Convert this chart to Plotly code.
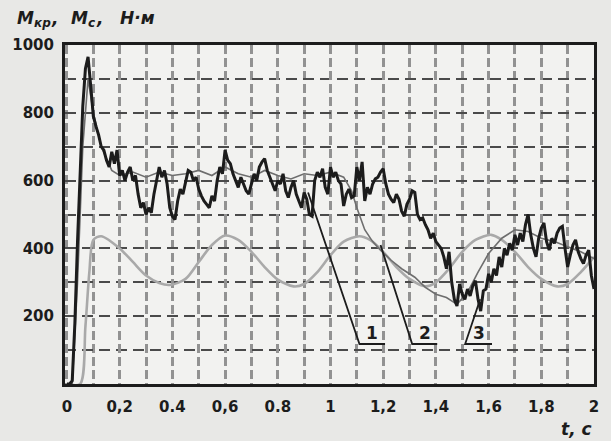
import plotly.graph_objects as go

# --- time axis of the measured torque (s) ---
t_meas = [round(0.01 * i, 2) for i in range(201)]

# measured motor torque M_kr, N*m (noisy record)
m_meas = [
    0, 0, 10, 180, 420, 640, 820, 930, 965, 880,
    790, 760, 735, 700, 690, 660, 640, 685, 650, 690,
    615, 630, 600, 625, 640, 600, 615, 560, 520, 535,
    500, 520, 505, 560, 600, 640, 610, 630, 590, 520,
    495, 485, 540, 575, 560, 600, 630, 625, 600, 610,
    575, 555, 540, 530, 520, 555, 540, 600, 640, 620,
    690, 660, 650, 620, 600, 580, 610, 590, 570, 560,
    590, 620, 600, 640, 655, 665, 630, 610, 590, 570,
    600, 590, 620, 570, 550, 580, 600, 560, 540, 520,
    565, 545, 500, 495, 600, 625, 610, 635, 580, 560,
    640, 610, 625, 600, 590, 525, 560, 575, 550, 555,
    640, 600, 655, 540, 580, 560, 590, 605, 610, 625,
    635, 590, 560, 545, 535, 560, 545, 510, 495, 530,
    545, 570, 565, 500, 485, 490, 470, 455, 430, 445,
    420, 410, 400, 375, 340, 390, 300, 250, 230, 295,
    265, 250, 280, 260, 290, 305, 250, 215, 275, 280,
    325, 300, 340, 320, 375, 345, 400, 380, 415, 395,
    440, 410, 445, 420, 470, 500, 440, 400, 375, 430,
    460, 475, 420, 395, 430, 415, 445, 460, 465, 400,
    345, 380, 410, 425, 390, 370, 355, 380, 395, 320,
    280,
]

# smoothed motor torque, N*m
t_smooth = [0.0, 0.02, 0.04, 0.06, 0.08, 0.10, 0.13, 0.17, 0.20, 0.25, 0.30,
            0.35, 0.40, 0.45, 0.50, 0.55, 0.60, 0.65, 0.70, 0.75, 0.80, 0.85,
            0.90, 0.95, 1.00, 1.05, 1.08, 1.10, 1.13, 1.16, 1.19, 1.23, 1.27,
            1.32, 1.36, 1.40, 1.44, 1.48, 1.52, 1.56, 1.60, 1.65, 1.70, 1.75,
            1.80, 1.85, 1.90, 1.95, 2.00]
m_smooth = [0, 0, 300, 700, 900, 800, 700, 630, 615, 625, 610,
            625, 615, 620, 630, 615, 640, 620, 610, 630, 615, 605,
            620, 615, 625, 610, 570, 520, 455, 420, 395, 365, 340,
            315, 285, 265, 255, 235, 270, 330, 385, 430, 455, 450,
            430, 420, 405, 390, 370]

# load torque M_c, N*m
t_load = [0.0, 0.05, 0.07, 0.085, 0.10, 0.13, 0.20, 0.25, 0.30, 0.35, 0.39,
          0.45, 0.50, 0.55, 0.60, 0.65, 0.70, 0.75, 0.80, 0.86, 0.90, 0.95,
          1.00, 1.05, 1.11, 1.15, 1.20, 1.25, 1.30, 1.36, 1.40, 1.45, 1.50,
          1.55, 1.61, 1.65, 1.70, 1.75, 1.80, 1.86, 1.90, 1.95, 2.00]
m_load = [0, 0, 170, 330, 425, 436, 400, 360, 320, 298, 292,
          310, 360, 410, 438, 425, 390, 345, 308, 288, 295, 330,
          380, 420, 436, 425, 390, 345, 310, 288, 300, 340, 390,
          425, 440, 425, 390, 345, 310, 288, 295, 330, 375]

# callout lines for the curve numbers (t, N*m)
callout_names = ["1", "2", "3"]
callout_t = [[0.915, 1.11, 1.207], [1.19, 1.31, 1.405], [1.568, 1.511, 1.613]]
callout_m = [[565, 118, 118], [410, 118, 118], [250, 118, 118]]

# axis ticks
x_ticks = [round(0.2 * i, 1) for i in range(11)]
x_text = ["0", "0,2", "0.4", "0,6", "0.8", "1", "1,2", "1,4", "1,6", "1,8", "2"]
y_ticks = [200, 400, 600, 800, 1000]
y_text = ["200", "400", "600", "800", "1000"]

# y-axis caption pieces: (text, is_subscript)
y_caption = [("M", False), ("кр", True), (",", False), ("M", False),
             ("с", True), (",", False), ("Н·м", False)]

INK = "#1c1c1c"
FONT = "DejaVu Sans"

fig = go.Figure()

fig.add_trace(go.Scatter(x=t_load, y=m_load, mode="lines",
                         line=dict(color="#a9a9a9", width=2.6, shape="spline", smoothing=0.8),
                         hoverinfo="skip"))
fig.add_trace(go.Scatter(x=t_smooth, y=m_smooth, mode="lines",
                         line=dict(color="#6e6e6e", width=1.6),
                         hoverinfo="skip"))
fig.add_trace(go.Scatter(x=t_meas, y=m_meas, mode="lines",
                         line=dict(color=INK, width=3),
                         hoverinfo="skip"))

for name, ct, cm in zip(callout_names, callout_t, callout_m):
    fig.add_trace(go.Scatter(x=ct, y=cm, mode="lines",
                             line=dict(color=INK, width=1.8), hoverinfo="skip"))
    fig.add_annotation(x=(ct[1] + ct[2]) / 2, y=cm[1], text="<b>%s</b>" % name,
                       showarrow=False, xanchor="center", yanchor="bottom", yshift=-1,
                       font=dict(family=FONT, size=17, color=INK))

vgrid = dict(showgrid=True, gridcolor="#929292", gridwidth=2.6, griddash="9px,4px")
hgrid = dict(showgrid=True, gridcolor="#4a4a4a", gridwidth=2, griddash="11px,6px")

fig.update_xaxes(range=[-0.0075, 2.0], tickvals=x_ticks, ticktext=x_text,
                 minor=dict(dtick=0.1, tick0=0, ticks="", **vgrid), **vgrid,
                 zeroline=False, showline=True, linecolor=INK, linewidth=3, mirror=True,
                 ticks="", tickfont=dict(family=FONT, size=15, color=INK, weight="bold"),
                 ticklabelstandoff=7)
fig.update_yaxes(range=[0, 1000], tickvals=y_ticks, ticktext=y_text,
                 minor=dict(dtick=100, tick0=0, ticks="", **hgrid), **hgrid,
                 zeroline=False, showline=True, linecolor=INK, linewidth=3, mirror=True,
                 ticks="", tickfont=dict(family=FONT, size=15, color=INK, weight="bold"),
                 ticklabelstandoff=5)

# caption above the y axis, laid out piece by piece (pixel offsets from plot's left edge)
offsets = [-50, -33, -16, 4, 21, 29, 53]
for (txt, sub), dx in zip(y_caption, offsets):
    fig.add_annotation(xref="paper", yref="paper", x=0, y=1.0,
                       xshift=dx, yshift=22 if sub else 27,
                       xanchor="left", yanchor="middle", showarrow=False,
                       text="<b><i>%s</i></b>" % txt,
                       font=dict(family=FONT, size=12 if sub else 17, color=INK))
fig.add_annotation(xref="paper", yref="paper", x=1.0, y=0, yshift=-45,
                   xanchor="right", yanchor="middle", showarrow=False,
                   text="<b><i>t, c</i></b>",
                   font=dict(family=FONT, size=17, color=INK))

fig.update_layout(width=611, height=441, showlegend=False,
                  margin=dict(l=64, r=13, t=45, b=57),
                  paper_bgcolor="#e8e8e6", plot_bgcolor="#f2f2f0")

fig.write_html("out.html")
